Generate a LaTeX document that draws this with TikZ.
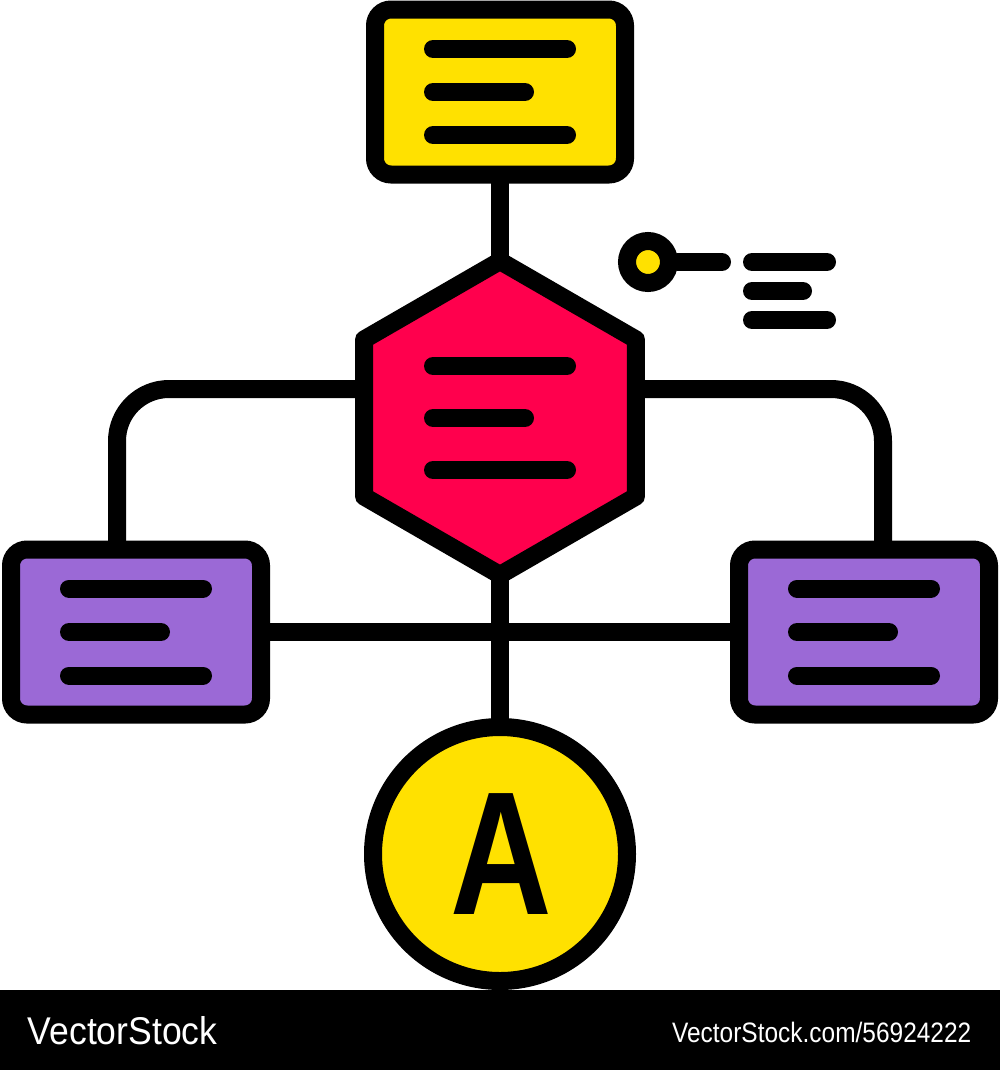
\documentclass[tikz,border=0pt]{standalone}
\usepackage{fontspec}
\usetikzlibrary{shapes.geometric,backgrounds}
\newfontfamily\logo{Liberation Sans}
\definecolor{amarillo}{HTML}{FFE100}
\definecolor{rojo}{HTML}{FF004D}
\definecolor{morado}{HTML}{9B69D6}
\tikzset{
  caja/.style={draw, rectangle, rounded corners=1.6mm, line width=1.8mm,
    minimum width=25mm, minimum height=16.5mm, inner sep=0pt},
  renglon/.style={line width=1.8mm, line cap=round},
  enlace/.style={line width=1.8mm},
}

\begin{document}
\begin{tikzpicture}[x=0.1mm, y=-0.1mm] % 1 unidad = 1 pixel
\useasboundingbox (0,0) rectangle (1000,1070);
% Cajas
\node[caja, fill=amarillo] (tbox) at (500,92) {};
\node[caja, fill=morado] (lbox) at (136,632) {};
\node[caja, fill=morado] (rbox) at (864,632) {};
% Hexagono central
\node[draw, fill=rojo, regular polygon, regular polygon sides=6, shape border rotate=90,
  minimum size=31.4mm, inner sep=0pt, line width=1.8mm, line join=round] (hex) at (500,418) {};
% Circulo con la letra
\node[circle, draw, fill=amarillo, line width=1.8mm, minimum size=25.4mm, inner sep=0pt] (circA) at (500,854) {};
\node[font=\logo\bfseries\fontsize{50}{50}\selectfont, inner sep=0pt] (letra) at (501,854) {\scalebox{0.8}[1]{A}};
% Renglones dentro de cada figura
\foreach \b/\d in {tbox/43, lbox/43.5, rbox/43.5, hex/52} {
  \draw[renglon] ([shift={(-67,-\d)}]\b.center) -- ++(134,0);
  \draw[renglon] ([shift={(-67,0)}]\b.center) -- ++(92,0);
  \draw[renglon] ([shift={(-67,\d)}]\b.center) -- ++(134,0);
}
% Conexiones (al fondo)
\begin{scope}[on background layer]
\draw[enlace] (tbox.center) -- (hex.center);
\draw[enlace] (hex.center) -- (circA.center);
\draw[enlace] (lbox.center) -- (rbox.center);
\draw[enlace, rounded corners=5.2mm] ([yshift=2.9mm]hex.center) -| ([xshift=-1.9mm]lbox.center);
\draw[enlace, rounded corners=5.2mm] ([yshift=2.9mm]hex.center) -| ([xshift=1.9mm]rbox.center);
\end{scope}
% Pin y leyenda
\node[circle, draw, fill=amarillo, line width=1.8mm, minimum size=4.2mm, inner sep=0pt] (pin) at (648,262) {};
\coordinate (pinend) at (722,262);
\draw[renglon] (pin.east) -- (pinend);
\foreach \y/\len in {262/75, 291/51, 320/75}
  \draw[renglon] (752,\y) -- ++(\len,0);
% Franja inferior
\fill[black] (0,990) rectangle (1000,1070);
\node[anchor=base west, text=white, font=\logo\fontsize{11}{11}\selectfont, inner sep=0pt] (marca) at (27,1044) {\scalebox{0.92}[1]{VectorStock}};
\node[anchor=base east, text=white, font=\logo\fontsize{8}{8}\selectfont, inner sep=0pt] (web) at (972,1042) {\scalebox{0.87}[1]{VectorStock.com/56924222}};
\end{tikzpicture}
\end{document}
